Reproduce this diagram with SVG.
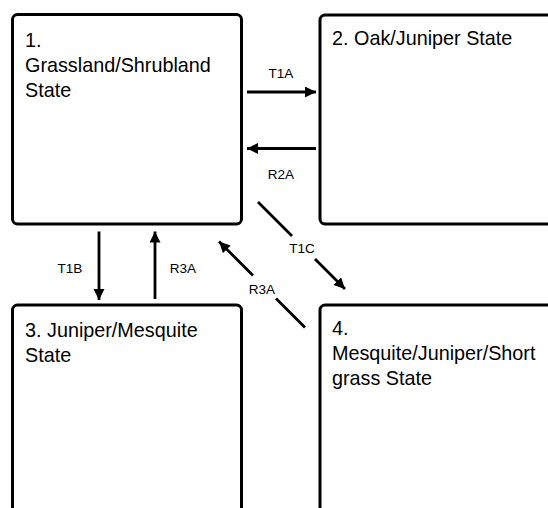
<svg xmlns="http://www.w3.org/2000/svg" width="548" height="508" viewBox="0 0 548 508">
  <style>
    .box { fill: #ffffff; stroke: #000000; stroke-width: 3; }
    .title { font-family: "Liberation Sans", Arial, sans-serif; font-size: 19.8px; fill: #000000; }
    .conn { fill: none; stroke: #000000; stroke-width: 2.8; marker-end: url(#arrow); }
    .lbl { font-family: "Liberation Sans", Arial, sans-serif; font-size: 13.5px; fill: #000000; text-anchor: middle; }
  </style>
  <defs>
    <marker id="arrow" markerUnits="userSpaceOnUse" markerWidth="12" markerHeight="12" refX="11" refY="5.5" orient="auto">
      <path d="M0,0 L11,5.5 L0,11 z" fill="#000000"/>
    </marker>
  </defs>
  <rect width="548" height="508" fill="#ffffff"/>

  <g id="node1">
    <rect class="box" x="12.5" y="14.5" width="229" height="209.5" rx="5"/>
    <text class="title" x="25" y="47">1.</text>
    <text class="title" x="25" y="72">Grassland/Shrubland</text>
    <text class="title" x="25" y="97">State</text>
  </g>
  <g id="node2">
    <rect class="box" x="320" y="15" width="250" height="209" rx="5"/>
    <text class="title" x="332" y="45">2. Oak/Juniper State</text>
  </g>
  <g id="node3">
    <rect class="box" x="12.5" y="305" width="229" height="230" rx="5"/>
    <text class="title" x="25" y="336.5">3. Juniper/Mesquite</text>
    <text class="title" x="25" y="361.5">State</text>
  </g>
  <g id="node4">
    <rect class="box" x="320" y="305" width="250" height="230" rx="5"/>
    <text class="title" x="332" y="335">4.</text>
    <text class="title" x="332" y="360">Mesquite/Juniper/Short</text>
    <text class="title" x="332" y="385">grass State</text>
  </g>

  <g id="connectors">
    <path class="conn" d="M247,92 L316,92"/>
    <text class="lbl" x="281" y="78">T1A</text>
    <path class="conn" d="M316,148.5 L247,148.5"/>
    <text class="lbl" x="281" y="179">R2A</text>
    <path class="conn" d="M99,231.5 L99,300"/>
    <text class="lbl" x="70" y="273">T1B</text>
    <path class="conn" d="M155,299 L155,231.5"/>
    <text class="lbl" x="183" y="273">R3A</text>
    <path class="conn" d="M258,202 L292,236 M315,259 L345,289"/>
    <text class="lbl" x="302" y="253">T1C</text>
    <path class="conn" d="M305,327.5 L276,298.5 M253,275.5 L219,241.5"/>
    <text class="lbl" x="262" y="294">R3A</text>
  </g>
</svg>
